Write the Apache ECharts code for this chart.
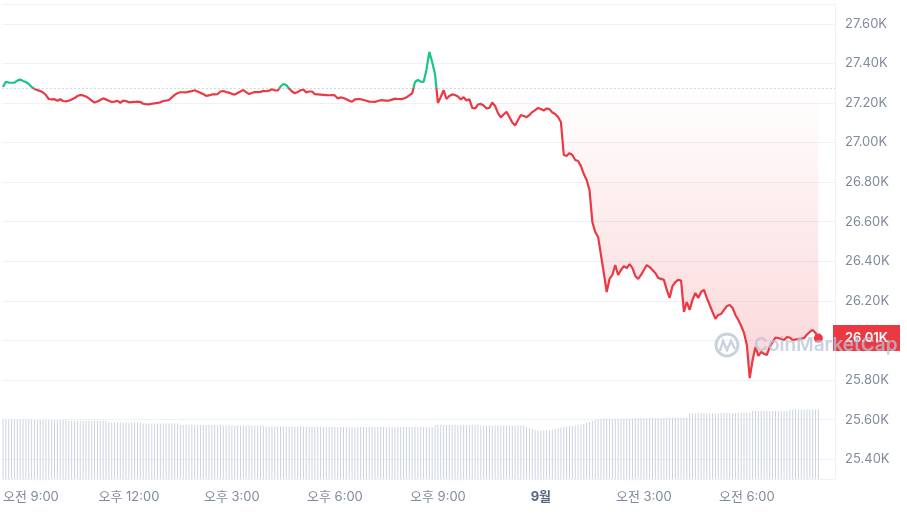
<!DOCTYPE html>
<html><head><meta charset="utf-8">
<script src="https://cdn.jsdelivr.net/npm/echarts@6/dist/echarts.min.js"></script>
<style>html,body{margin:0;padding:0;background:#fff}#c{width:907px;height:514px}</style>
</head><body><div id="c"></div>
<script>
// ---- data (5-minute samples, minutes counted from 00:00 of day 1) ----
const startMinute = 500;
const stepMinutes = 5;
const openPrice = 27275;
const prices = [
27281,27307,27303,27302,27303,27313,27318,27311,27306,27296,
27281,27271,27265,27260,27253,27240,27220,27218,27219,27211,
27219,27210,27208,27211,27218,27225,27235,27240,27238,27233,
27223,27212,27202,27207,27215,27223,27218,27211,27205,27207,
27211,27201,27212,27210,27203,27204,27205,27207,27205,27196,
27194,27193,27196,27198,27200,27203,27210,27212,27215,27228,
27241,27250,27254,27254,27253,27257,27260,27264,27258,27251,
27245,27236,27238,27243,27243,27245,27258,27260,27255,27252,
27246,27242,27250,27258,27265,27255,27245,27250,27255,27255,
27256,27261,27259,27262,27269,27263,27263,27283,27296,27291,
27273,27258,27249,27255,27264,27268,27253,27258,27258,27244,
27243,27242,27241,27240,27239,27240,27238,27223,27228,27225,
27219,27211,27206,27218,27219,27219,27215,27211,27207,27206,
27205,27210,27214,27213,27212,27212,27217,27222,27220,27219,
27222,27228,27238,27248,27306,27316,27308,27306,27367,27458,
27407,27346,27200,27230,27265,27220,27235,27243,27240,27233,
27218,27229,27212,27219,27175,27172,27192,27195,27187,27172,
27175,27202,27185,27149,27127,27142,27156,27129,27101,27086,
27114,27139,27134,27128,27139,27154,27164,27175,27169,27162,
27172,27169,27152,27144,27129,27104,26937,26932,26947,26937,
26912,26907,26881,26841,26811,26760,26598,26548,26523,26432,
26341,26245,26311,26331,26381,26331,26356,26376,26366,26386,
26366,26326,26311,26331,26356,26381,26371,26356,26341,26316,
26311,26306,26255,26215,26275,26295,26306,26303,26144,26194,
26154,26205,26240,26215,26245,26255,26215,26179,26144,26109,
26129,26134,26154,26174,26179,26164,26129,26104,26073,26038,
25977,25810,25901,25967,25922,25942,25932,25927,25967,25992,
26015,26012,26007,26002,26017,26015,26002,26005,26006,26010,
26012,26030,26043,26053,26038,26012
];
const volumes = [
11.9,11.9,11.9,11.9,11.9,11.9,11.9,11.9,11.9,11.9,11.9,
11.8,11.8,11.8,11.8,11.8,11.8,11.8,11.8,11.8,11.8,11.8,11.8,
11.6,11.6,11.6,11.6,11.6,11.6,11.6,11.6,11.6,11.6,11.6,11.6,11.6,11.6,
11.3,11.3,11.3,11.3,11.3,11.3,11.3,11.3,11.3,11.3,11.3,11.3,
11.1,11.1,11.1,11.1,11.1,11.1,11.1,11.1,11.1,11.1,11.1,11.1,11.1,
10.8,10.8,10.8,10.8,10.8,10.8,10.8,10.8,10.8,10.8,10.8,10.8,10.8,10.8,10.8,
10.7,10.7,10.7,10.7,10.7,10.7,10.7,10.7,10.7,10.7,10.7,10.7,10.7,10.7,10.7,
10.5,10.5,10.5,10.5,10.5,10.5,10.5,10.5,10.5,10.5,10.5,10.5,10.5,10.5,10.5,10.5,10.5,10.5,10.5,10.5,
10.4,10.4,10.4,10.4,10.4,10.4,10.4,10.4,10.4,10.4,10.4,10.4,10.4,10.4,10.4,10.4,10.4,10.4,10.4,10.4,
10.4,10.4,10.4,10.4,10.4,10.4,10.4,10.4,10.4,10.4,10.4,10.4,10.4,10.4,10.4,10.4,10.4,10.4,10.4,
10.8,10.8,10.8,10.8,10.8,10.8,10.8,10.8,10.8,10.8,10.8,10.8,10.8,10.8,10.8,10.8,
10.7,10.7,10.7,10.7,10.7,10.7,10.7,10.7,10.7,10.7,10.7,10.7,10.7,10.7,10.7,10.7,
10.4,10.2,10.0,9.8,9.7,9.7,9.7,9.7,9.8,9.9,10.0,10.2,
10.3,10.4,10.5,10.6,10.6,10.7,10.8,10.9,11.0,11.2,11.4,11.6,11.8,11.9,12.0,12.1,
12.1,12.1,12.1,12.1,12.1,12.1,12.1,12.1,12.1,12.1,
12.2,12.2,12.2,12.2,12.2,12.2,12.2,12.2,12.2,12.2,
12.3,12.3,12.3,12.3,12.3,12.3,12.3,12.3,12.3,
13.1,13.1,13.1,13.1,13.1,13.1,13.1,13.1,13.1,13.1,13.1,
13.2,13.2,13.2,13.2,13.2,13.2,13.2,13.2,13.2,13.2,13.2,
13.6,13.6,13.6,13.6,13.6,13.6,13.6,13.6,13.6,13.6,13.6,13.6,13.6,
13.9,13.9,13.9,13.9,13.9,13.9,13.9,13.9,13.9,13.9,13.9
];
const xTickValues = [540, 720, 900, 1080, 1260, 1440, 1620, 1800];
const xTickLabels = ['오전 9:00', '오후 12:00', '오후 3:00', '오후 6:00', '오후 9:00', '9월', '오전 3:00', '오전 6:00'];
const xMin = 499, xMax = 1954;
const yMin = 25300, yMax = 27700;
const volMax = 95;

// ---- build ----
const times = prices.map((_, i) => startMinute + i * stepMinutes);
const priceData = prices.map((v, i) => [times[i], v]);
const volData = volumes.map((v, i) => [times[i], v]);
const last = priceData[priceData.length - 1];
const fmtK = v => (v / 1000).toFixed(2) + 'K';
const FONT = 'Inter, "Noto Sans CJK KR", "Noto Sans", sans-serif';
const RED = '#ea3943', GREEN = '#16c784';
const H = 514;
const WM = 'rgba(185,195,212,0.75)';

const chart = echarts.init(document.getElementById('c'));
chart.setOption({
  animation: false,
  backgroundColor: '#fff',
  title: {
    text: 'CoinMarketCap', left: 754, top: 334, padding: 0, zlevel: 2, z: 1000,
    textStyle: { color: WM, fontSize: 19, fontWeight: 600, fontFamily: FONT, lineHeight: 22 }
  },
  grid: { left: 0, right: 72, top: 4, bottom: 35 },
  xAxis: {
    type: 'value', min: xMin, max: xMax,
    splitLine: { show: false }, axisLine: { show: false }, axisTick: { show: false },
    axisLabel: {
      customValues: xTickValues,
      color: '#808a9d', fontSize: 13, fontFamily: FONT, margin: 12,
      formatter: v => {
        const i = xTickValues.indexOf(v);
        const t = i >= 0 ? xTickLabels[i] : '';
        if (i === 0) return '{first|' + t + '}';
        if (t === '9월') return '{bold|' + t + '}';
        return t;
      },
      rich: {
        first: { padding: [0, 0, 0, 10], color: '#808a9d', fontSize: 13, fontFamily: FONT },
        bold: { fontWeight: 'bold', color: '#58667e', fontSize: 13, fontFamily: FONT }
      }
    }
  },
  yAxis: [{
    type: 'value', position: 'right', min: yMin, max: yMax, splitNumber: 12,
    axisLine: { show: true, lineStyle: { color: '#eff2f5' } },
    axisTick: { show: false },
    splitLine: { lineStyle: { color: '#eff2f5' } },
    axisLabel: { showMinLabel: false, showMaxLabel: false, color: '#808a9d', fontSize: 13, fontFamily: FONT, margin: 10, formatter: fmtK }
  }, {
    type: 'value', min: 0, max: volMax, show: false, splitLine: { show: false }
  }],
  series: [{
    id: 'price', type: 'line', data: priceData, showSymbol: false, z: 3,
    lineStyle: { width: 2.2, color: RED },
    areaStyle: { origin: openPrice, color: 'rgba(0,0,0,0)' },
    markLine: {
      silent: true, symbol: 'none', animation: false,
      data: [
        { yAxis: openPrice, lineStyle: { type: [1, 3], color: '#a6b0c3', width: 1 }, label: { show: false } },
        { yAxis: last[1], lineStyle: { color: 'rgba(0,0,0,0)', width: 0.1 },
          label: { show: true, position: 'end', distance: -2, formatter: p => fmtK(p.value),
            backgroundColor: RED, color: '#fff', fontSize: 13, fontWeight: 600, fontFamily: FONT,
            lineHeight: 14, padding: [6, 12, 6, 12] } }
      ]
    },
    markPoint: {
      silent: true, animation: false,
      data: [{ coord: last, symbol: 'circle', symbolSize: 9, itemStyle: { color: RED }, label: { show: false } }]
    }
  }, {
    type: 'bar', yAxisIndex: 1, data: volData, barWidth: 1, z: 1,
    itemStyle: { color: '#ccd3df' }
  }],
  graphic: [
    { type: 'circle', zlevel: 2, z: 1000, shape: { cx: 727, cy: 345, r: 11 }, style: { fill: 'none', stroke: WM, lineWidth: 3 } },
    { type: 'polyline', zlevel: 2, z: 1000, shape: { points: [[720, 351], [723, 341], [727, 350], [731, 341], [735, 349]] }, style: { fill: 'none', stroke: WM, lineWidth: 2.5 } }
  ]
});

// colour the line green above / red below the opening price, using the axis scale
const baseY = chart.convertToPixel({ yAxisIndex: 0 }, openPrice);
const lowY = chart.convertToPixel({ yAxisIndex: 0 }, 25800);
const b = baseY / H;
chart.setOption({
  series: [{
    id: 'price',
    lineStyle: { color: { type: 'linear', x: 0, y: 0, x2: 0, y2: H, global: true,
      colorStops: [{ offset: 0, color: GREEN }, { offset: b, color: GREEN }, { offset: b, color: RED }, { offset: 1, color: RED }] } },
    areaStyle: { origin: openPrice, color: { type: 'linear', x: 0, y: baseY, x2: 0, y2: lowY, global: true,
      colorStops: [{ offset: 0, color: 'rgba(234,57,67,0)' }, { offset: 1, color: 'rgba(234,57,67,0.3)' }] } }
  }]
});
</script></body></html>
